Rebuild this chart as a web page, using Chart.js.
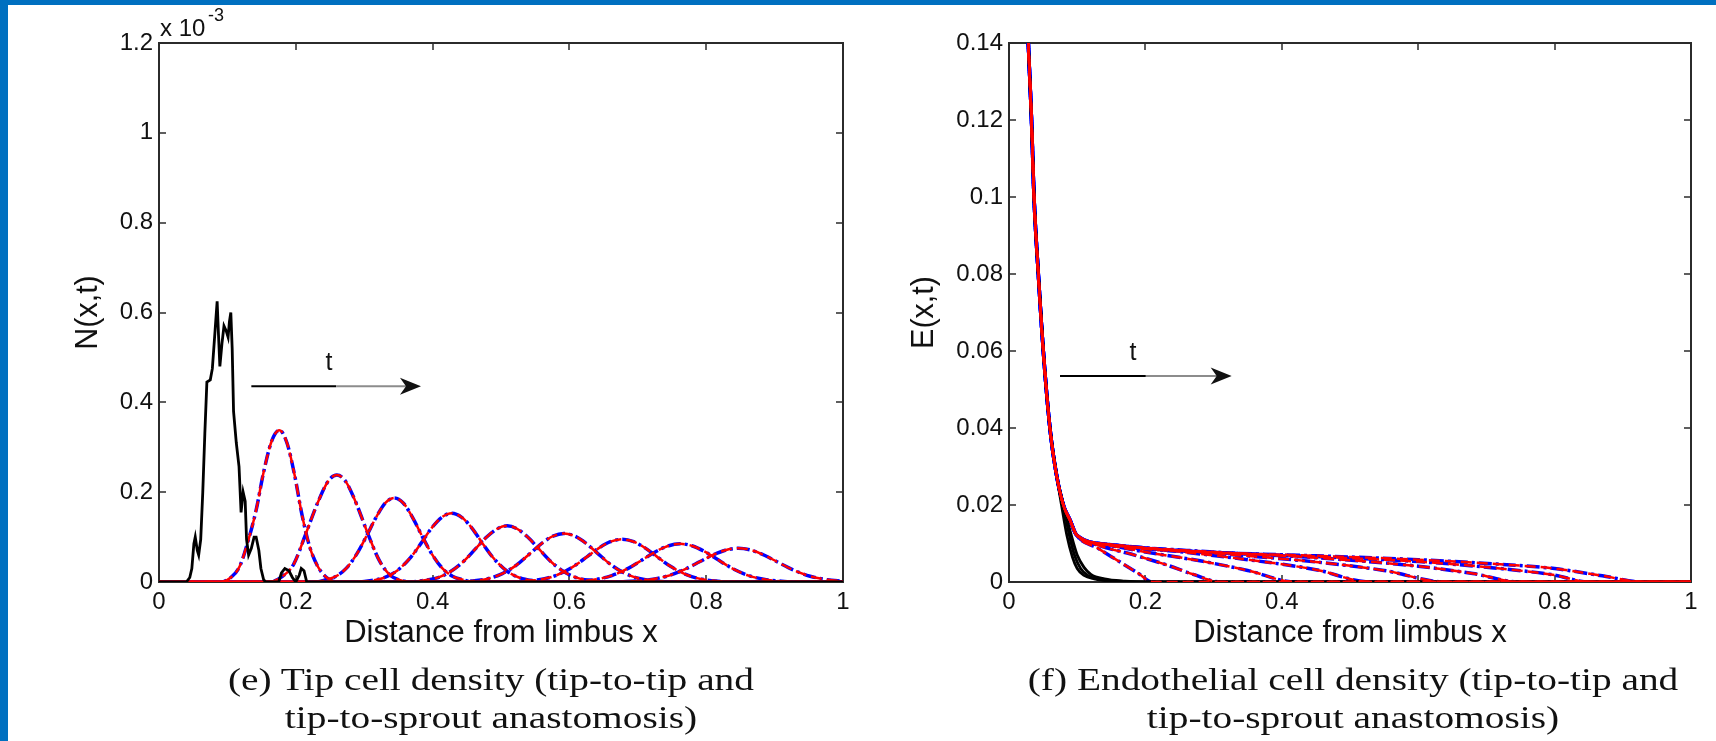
<!DOCTYPE html>
<html>
<head>
<meta charset="utf-8">
<script src="https://cdn.jsdelivr.net/npm/chart.js@4/dist/chart.umd.min.js"></script>
<style>
  body { margin: 0; width: 1716px; height: 741px; background: #fff; overflow: hidden; position: relative; font-family: "Liberation Sans", Arial, sans-serif; }
  .bar-top { position: absolute; left: 0; top: 0; width: 1716px; height: 5px; background: #0070c0; }
  .bar-left { position: absolute; left: 0; top: 0; width: 8px; height: 741px; background: #0070c0; }
  canvas { position: absolute; top: 0; }
  #chartN { left: 0; }
  #chartE { left: 858px; }
  .expo { position: absolute; left: 160px; top: 16px; font-size: 24px; line-height: 24px; color: #111; }
  .expo span { position: absolute; left: 48px; top: -10px; font-size: 18px; line-height: 18px; }
  .caption { position: absolute; top: 661px; width: 600px; text-align: center; font-family: "Liberation Serif", "Times New Roman", serif; font-size: 31px; line-height: 38px; color: #111; transform: scaleX(1.27); transform-origin: 50% 0; white-space: nowrap; }
  #capN { left: 191px; }
  #capE { left: 1053px; }
</style>
</head>
<body>
<div class="bar-top"></div>
<div class="bar-left"></div>
<canvas id="chartN" width="858" height="741"></canvas>
<canvas id="chartE" width="858" height="741"></canvas>
<div class="expo">x 10<span>-3</span></div>
<div class="caption" id="capN">(e) Tip cell density (tip-to-tip and<br>tip-to-sprout anastomosis)</div>
<div class="caption" id="capE">(f) Endothelial cell density (tip-to-tip and<br>tip-to-sprout anastomosis)</div>

<script>
// axis ticks
const xTicks = [0, 0.2, 0.4, 0.6, 0.8, 1];
const nTicks = [0, 0.2, 0.4, 0.6, 0.8, 1, 1.2]; // units of 1e-3
const eTicks = [0, 0.02, 0.04, 0.06, 0.08, 0.1, 0.12, 0.14];

// tip cell density N(x,t): initial profile (black)
const nStart = [[0,0],[0.04,0],[0.045,0.01],[0.048,0.03],[0.051,0.085],[0.053,0.1],[0.056,0.07],[0.058,0.06],
  [0.061,0.095],[0.064,0.2],[0.067,0.33],[0.07,0.445],[0.075,0.45],[0.078,0.475],[0.082,0.56],[0.085,0.625],
  [0.087,0.55],[0.089,0.48],[0.092,0.53],[0.095,0.57],[0.098,0.56],[0.101,0.545],[0.103,0.58],[0.105,0.6],
  [0.107,0.52],[0.109,0.38],[0.113,0.31],[0.117,0.257],[0.12,0.155],[0.123,0.2],[0.126,0.18],[0.128,0.095],
  [0.131,0.06],[0.135,0.075],[0.139,0.1],[0.142,0.1],[0.146,0.07],[0.149,0.03],[0.153,0.005],[0.156,0],
  [0.175,0],[0.179,0.02],[0.184,0.03],[0.19,0.025],[0.195,0.01],[0.2,0],[0.205,0.015],[0.208,0.03],
  [0.212,0.025],[0.216,0],[1,0]];

// travelling pulses at later times
const n1 = [[0,0],[0.09,0],[0.105,0.01],[0.118,0.035],[0.13,0.09],[0.142,0.16],[0.153,0.245],[0.165,0.315],
  [0.176,0.338],[0.187,0.31],[0.198,0.24],[0.209,0.15],[0.22,0.08],[0.232,0.035],[0.245,0.01],[0.26,0],[1,0]];
const n2 = [[0,0],[0.16,0],[0.18,0.012],[0.197,0.04],[0.215,0.109],[0.233,0.18],[0.248,0.226],[0.26,0.238],
  [0.272,0.226],[0.287,0.18],[0.305,0.109],[0.322,0.048],[0.338,0.015],[0.355,0.003],[0.37,0],[1,0]];
const n3 = [[0,0],[0.23,0],[0.244,0.005],[0.259,0.013],[0.274,0.031],[0.289,0.062],[0.304,0.104],[0.317,0.143],
  [0.331,0.176],[0.344,0.187],[0.357,0.176],[0.371,0.143],[0.384,0.104],[0.399,0.062],[0.414,0.031],
  [0.429,0.013],[0.444,0.005],[0.46,0],[1,0]];
const n4 = [[0,0],[0.29,0],[0.308,0.0026],[0.328,0.009],[0.348,0.025],[0.368,0.055],[0.383,0.086],[0.398,0.119],
  [0.413,0.1435],[0.428,0.153],[0.443,0.1435],[0.458,0.119],[0.473,0.086],[0.488,0.055],[0.508,0.025],
  [0.528,0.009],[0.548,0.0026],[0.565,0],[1,0]];
const n5 = [[0,0],[0.365,0],[0.384,0.003],[0.404,0.008],[0.424,0.021],[0.444,0.044],[0.464,0.076],[0.479,0.1],
  [0.494,0.118],[0.509,0.125],[0.524,0.118],[0.539,0.1],[0.554,0.076],[0.574,0.044],[0.594,0.021],
  [0.614,0.008],[0.634,0.003],[0.655,0],[1,0]];
const n6 = [[0,0],[0.435,0],[0.457,0.002],[0.482,0.0078],[0.502,0.0186],[0.522,0.037],[0.544,0.0655],[0.56,0.0865],
  [0.576,0.102],[0.592,0.108],[0.608,0.102],[0.624,0.0865],[0.64,0.0655],[0.662,0.037],[0.682,0.0186],
  [0.702,0.0078],[0.727,0.002],[0.75,0],[1,0]];
const n7 = [[0,0],[0.515,0],[0.537,0.0019],[0.562,0.0067],[0.582,0.0156],[0.605,0.0337],[0.627,0.0576],[0.643,0.0754],
  [0.66,0.0897],[0.677,0.095],[0.694,0.0897],[0.711,0.0754],[0.727,0.0576],[0.749,0.0337],[0.772,0.0156],
  [0.792,0.0067],[0.817,0.0019],[0.84,0],[1,0]];
const n8 = [[0,0],[0.59,0],[0.614,0.0017],[0.64,0.006],[0.662,0.0143],[0.686,0.0304],[0.709,0.0516],[0.726,0.0675],
  [0.744,0.0802],[0.762,0.085],[0.78,0.0802],[0.798,0.0675],[0.815,0.0516],[0.838,0.0304],[0.862,0.0143],
  [0.884,0.006],[0.91,0.0017],[0.935,0],[1,0]];
const n9 = [[0,0],[0.67,0],[0.692,0.0016],[0.717,0.0051],[0.742,0.0129],[0.767,0.027],[0.791,0.0455],[0.809,0.0596],
  [0.828,0.0708],[0.847,0.075],[0.866,0.0708],[0.885,0.0596],[0.903,0.0455],[0.927,0.027],[0.952,0.0129],
  [0.977,0.0051],[1,0.0016]];
const nPulses = [n1, n2, n3, n4, n5, n6, n7, n8, n9];

// endothelial cell density E(x,t): steep limbal part shared by every profile
const eSteep = [[0.027,0.146],[0.0283,0.14],[0.033,0.12],[0.0367,0.1],[0.043,0.08],[0.0503,0.06],[0.06,0.04],[0.07,0.0275]];
const eKnee = [[0.0797,0.02],[0.0894,0.0161],[0.0992,0.0122]];

// early profiles (black)
const eStart1 = [[0.077,0.02],[0.085,0.012],[0.093,0.0065],[0.1,0.0035],[0.11,0.0017],[0.125,0.0008],[0.15,0.0002],[0.18,0],[1,0]];
const eStart2 = [[0.0797,0.02],[0.088,0.0125],[0.096,0.007],[0.105,0.0035],[0.115,0.0018],[0.13,0.0008],[0.16,0.0002],[0.19,0],[1,0]];
const eStart3 = [[0.0797,0.02],[0.09,0.013],[0.1,0.007],[0.11,0.0038],[0.12,0.002],[0.14,0.0008],[0.17,0.0002],[0.2,0],[1,0]];
const eStarts = [eStart1, eStart2, eStart3];

// later profiles spreading out from the knee
const eFan1 = [[0.13,0.0088],[0.16,0.0055],[0.19,0.0022],[0.21,0],[1,0]];
const eFan2 = [[0.13,0.0096],[0.18,0.0072],[0.23,0.0045],[0.27,0.002],[0.31,0],[1,0]];
const eFan3 = [[0.14,0.0098],[0.2,0.0078],[0.28,0.0055],[0.35,0.003],[0.42,0],[1,0]];
const eFan4 = [[0.15,0.0097],[0.25,0.0079],[0.35,0.0058],[0.45,0.0032],[0.53,0],[1,0]];
const eFan5 = [[0.15,0.0097],[0.3,0.0075],[0.45,0.0052],[0.55,0.003],[0.64,0],[1,0]];
const eFan6 = [[0.15,0.0097],[0.3,0.0078],[0.45,0.0063],[0.6,0.0041],[0.68,0.0022],[0.75,0],[1,0]];
const eFan7 = [[0.15,0.0096],[0.3,0.0077],[0.45,0.0066],[0.6,0.0053],[0.72,0.0035],[0.8,0.0018],[0.85,0],[1,0]];
const eFan8 = [[0.15,0.0094],[0.3,0.0077],[0.45,0.0068],[0.6,0.0058],[0.72,0.0046],[0.8,0.0035],[0.87,0.0016],[0.93,0],[1,0]];
const eFans = [eFan1, eFan2, eFan3, eFan4, eFan5, eFan6, eFan7, eFan8];

// "t" arrows, in data units
const nArrow = { x0: 0.135, x1: 0.383, y: 0.436, tx: 0.2485, ty: 0.4876 };
const eArrow = { x0: 0.0748, x1: 0.3265, y: 0.0535, tx: 0.1818, ty: 0.0595 };

Chart.defaults.font.family = '"Liberation Sans", Arial, sans-serif';
Chart.defaults.color = '#111';

const RED = '#ff0000';
const BLUE = '#0000ff';

// each curve gets its own dash phase so the shared zero line fills in
function redLine(data, i) {
  return { data, borderColor: RED, borderWidth: 2.5, borderDash: [11, 5], borderDashOffset: i * 3,
    pointRadius: 0, cubicInterpolationMode: 'monotone', fill: false };
}
function blueLine(data, i) {
  return { data, borderColor: BLUE, borderWidth: 3.5, borderDash: [13, 4, 3, 4], borderDashOffset: i * 5,
    pointRadius: 0, cubicInterpolationMode: 'monotone', fill: false };
}
function blackLine(data, smooth) {
  return { data, borderColor: '#000', borderWidth: 2.8, pointRadius: 0, tension: 0,
    cubicInterpolationMode: smooth ? 'monotone' : 'default', fill: false };
}

// matlab style box with inward ticks on all four sides
const boxTicks = {
  id: 'boxTicks',
  beforeDatasetsDraw(chart) {
    const { ctx, chartArea: a, scales: { x, y } } = chart;
    ctx.save();
    ctx.strokeStyle = '#2b2b2b';
    ctx.lineWidth = 2;
    ctx.strokeRect(a.left, a.top, a.right - a.left, a.bottom - a.top);
    ctx.lineWidth = 1.5;
    ctx.beginPath();
    x.ticks.forEach(t => {
      const px = Math.round(x.getPixelForValue(t.value));
      ctx.moveTo(px, a.bottom); ctx.lineTo(px, a.bottom - 7);
      ctx.moveTo(px, a.top); ctx.lineTo(px, a.top + 7);
    });
    y.ticks.forEach(t => {
      const py = Math.round(y.getPixelForValue(t.value));
      ctx.moveTo(a.left, py); ctx.lineTo(a.left + 7, py);
      ctx.moveTo(a.right, py); ctx.lineTo(a.right - 7, py);
    });
    ctx.stroke();
    ctx.restore();
  }
};

function arrowPlugin(arrow) {
  return {
    id: 'timeArrow',
    afterDatasetsDraw(chart) {
      const { ctx, scales: { x, y } } = chart;
      const x0 = x.getPixelForValue(arrow.x0);
      const x1 = x.getPixelForValue(arrow.x1);
      const py = y.getPixelForValue(arrow.y);
      const mid = (x0 + x1) / 2;
      ctx.save();
      ctx.lineWidth = 2;
      ctx.strokeStyle = '#000';
      ctx.beginPath(); ctx.moveTo(x0, py); ctx.lineTo(mid, py); ctx.stroke();
      ctx.strokeStyle = '#8c8c8c';
      ctx.beginPath(); ctx.moveTo(mid, py); ctx.lineTo(x1 - 12, py); ctx.stroke();
      ctx.fillStyle = '#111';
      ctx.beginPath();
      ctx.moveTo(x1, py);
      ctx.lineTo(x1 - 21, py - 8.5);
      ctx.lineTo(x1 - 15, py);
      ctx.lineTo(x1 - 21, py + 8.5);
      ctx.closePath();
      ctx.fill();
      ctx.font = '25px "Liberation Sans", Arial, sans-serif';
      ctx.textAlign = 'center';
      ctx.textBaseline = 'middle';
      ctx.fillText('t', x.getPixelForValue(arrow.tx), y.getPixelForValue(arrow.ty));
      ctx.restore();
    }
  };
}

function makeChart(id, datasets, yTicks, yTitle, yWidth, yTitlePad, rightPad, arrow) {
  return new Chart(document.getElementById(id), {
    type: 'line',
    data: { datasets },
    options: {
      responsive: false,
      animation: false,
      events: [],
      layout: { padding: { left: 0, top: 43, right: rightPad, bottom: 0 } },
      plugins: { legend: { display: false }, tooltip: { enabled: false } },
      scales: {
        x: {
          type: 'linear',
          min: xTicks[0],
          max: xTicks[xTicks.length - 1],
          afterBuildTicks: s => { s.ticks = xTicks.map(v => ({ value: v })); },
          afterFit: s => { s.height = 159; },
          grid: { display: false, drawTicks: false },
          border: { display: false },
          ticks: { callback: v => String(v), font: { size: 24 }, padding: 6, maxRotation: 0, autoSkip: false, color: '#111' },
          title: { display: true, text: 'Distance from limbus x', font: { size: 31 }, padding: { top: 0, bottom: 88.5 }, color: '#111' }
        },
        y: {
          type: 'linear',
          min: yTicks[0],
          max: yTicks[yTicks.length - 1],
          afterBuildTicks: s => { s.ticks = yTicks.map(v => ({ value: v })); },
          afterFit: s => { s.width = yWidth; },
          grid: { display: false, drawTicks: false },
          border: { display: false },
          ticks: { callback: v => String(v), font: { size: 24 }, padding: 6, autoSkip: false, color: '#111' },
          title: { display: true, text: yTitle, font: { size: 30.5 }, padding: { top: yTitlePad, bottom: 0 }, color: '#111' }
        }
      }
    },
    plugins: [boxTicks, arrowPlugin(arrow)]
  });
}

// N(x,t): black initial profile on top, red over blue
const nSets = [blackLine(nStart, false)];
nPulses.forEach((p, i) => nSets.push(redLine(p, i)));
nPulses.forEach((p, i) => nSets.push(blueLine(p, i)));
makeChart('chartN', nSets, nTicks, 'N(x,t)', 159, 70.7, 15, nArrow);

// E(x,t)
const eSets = [];
eFans.forEach((f, i) => eSets.push(redLine(eSteep.concat(eKnee, f), i)));
eStarts.forEach(s => eSets.push(blackLine(eSteep.concat(s), true)));
eFans.forEach((f, i) => eSets.push(blueLine(eSteep.concat(eKnee, f), i)));
makeChart('chartE', eSets, eTicks, 'E(x,t)', 151, 48.7, 25, eArrow);
</script>
</body>
</html>
